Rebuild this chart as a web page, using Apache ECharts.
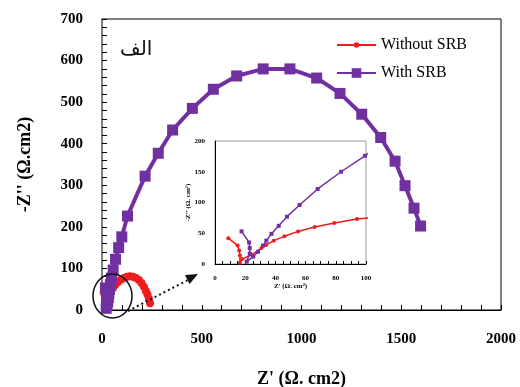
<!DOCTYPE html>
<html><head><meta charset="utf-8">
<script src="https://cdn.jsdelivr.net/npm/echarts@6/dist/echarts.min.js"></script>
<style>html,body{margin:0;padding:0;background:#fff}#c{width:520px;height:387px}</style>
</head><body><div id="c"></div>
<script>
// Data (Z' , -Z'')
const withoutX = [8.8, 15, 16, 16.5, 16.5, 18, 24.2, 30.8, 34, 38.9, 46, 55, 66, 79, 94, 110, 125, 140, 155, 170, 185, 198, 210, 220, 228, 235, 241];
const withoutY = [42, 30, 22, 14, 2, 8, 15, 26, 31, 38, 45, 53, 60, 66.5, 73, 77, 80, 81, 80, 77, 72, 65, 56, 46, 37, 27, 16];
const withX = [17.6, 22.6, 23, 23, 21, 25.3, 28.5, 31.8, 34, 37.4, 42.2, 47.7, 56, 68, 83.5, 99.3, 128, 216, 282, 354, 453, 558, 675, 808, 942, 1076, 1193, 1302, 1397, 1469, 1519, 1564, 1597];
const withY = [53, 35, 26, 17, 4, 12, 20, 30, 38, 49, 62, 77, 96, 122, 150, 176, 226, 322, 377, 433, 485, 531, 563, 580, 580, 558, 521, 471, 415, 358, 299, 245, 202];
const seriesNames = ['Without SRB', 'With SRB'];
const mainXTicks = [0, 500, 1000, 1500, 2000];
const mainYTicks = [0, 100, 200, 300, 400, 500, 600, 700];
const insetXTicks = [0, 20, 40, 60, 80, 100];
const insetYTicks = [0, 50, 100, 150, 200];

const pair = (xs, ys) => xs.map((x, i) => [x, ys[i]]);
const RED = '#EE1C1C', PURPLE = '#7030A0';
const SERIF = '"Liberation Serif", "Times New Roman", serif';
const plain = v => String(v);

const chart = echarts.init(document.getElementById('c'));
chart.setOption({
  animation: false,
  backgroundColor: '#fff',
  grid: [
    {left: 102, top: 19, right: 19, bottom: 77, show: true, borderColor: '#000', borderWidth: 1, outerBoundsMode: 'none', containLabel: false},
    {left: 215, top: 141, width: 151, height: 123, show: true, borderColor: '#999', borderWidth: 1, backgroundColor: '#fff', z: 10, outerBoundsMode: 'none', containLabel: false}
  ],
  xAxis: [
    {gridIndex: 0, type: 'value', min: mainXTicks[0], max: mainXTicks[mainXTicks.length-1], interval: 500,
     name: "Z' (Ω. cm2)", nameLocation: 'middle', nameGap: 60, nameMoveOverlap: false,
     nameTextStyle: {fontFamily: SERIF, fontWeight: 'bold', fontSize: 18, color: '#000'},
     axisLine: {lineStyle: {color: '#000', width: 1}},
     axisTick: {show: true, inside: true, length: 5, lineStyle: {color: '#000'}},
     minorTick: {show: true, splitNumber: 5, length: 5, lineStyle: {color: '#000'}},
     splitLine: {show: false},
     axisLabel: {margin: 22, formatter: plain, fontFamily: SERIF, fontWeight: 'bold', fontSize: 15, color: '#000'}},
    {gridIndex: 1, type: 'value', min: insetXTicks[0], max: insetXTicks[insetXTicks.length-1], interval: 20,
     name: "Z' (Ω. cm²)", nameLocation: 'middle', nameGap: 19, nameMoveOverlap: false,
     nameTextStyle: {fontFamily: SERIF, fontWeight: 'bold', fontSize: 7, color: '#000'},
     axisLine: {lineStyle: {color: '#000', width: 1}},
     axisTick: {show: true, inside: true, length: 3, lineStyle: {color: '#000'}},
     minorTick: {show: true, splitNumber: 4, length: 3, lineStyle: {color: '#000'}},
     splitLine: {show: false},
     axisLabel: {margin: 11, formatter: plain, fontFamily: SERIF, fontWeight: 'bold', fontSize: 7, color: '#000'}, z: 10}
  ],
  yAxis: [
    {gridIndex: 0, type: 'value', min: mainYTicks[0], max: mainYTicks[mainYTicks.length-1], interval: 100,
     name: "-Z'' (Ω.cm2)", nameLocation: 'middle', nameGap: 68, nameMoveOverlap: false,
     nameTextStyle: {fontFamily: SERIF, fontWeight: 'bold', fontSize: 18, color: '#000'},
     axisLine: {lineStyle: {color: '#808080', width: 2}},
     axisTick: {show: true, inside: true, length: 5, lineStyle: {color: '#000'}},
     minorTick: {show: true, splitNumber: 5, length: 5, lineStyle: {color: '#000'}},
     splitLine: {show: false},
     axisLabel: {margin: 19, formatter: plain, fontFamily: SERIF, fontWeight: 'bold', fontSize: 15, color: '#000'}},
    {gridIndex: 1, type: 'value', min: insetYTicks[0], max: insetYTicks[insetYTicks.length-1], interval: 50,
     name: "-Z'' (Ω. cm²)", nameLocation: 'middle', nameGap: 23, nameMoveOverlap: false,
     nameTextStyle: {fontFamily: SERIF, fontWeight: 'bold', fontSize: 7, color: '#000'},
     axisLine: {lineStyle: {color: '#000', width: 1}},
     axisTick: {show: false},
     splitLine: {show: false},
     axisLabel: {margin: 10, formatter: plain, fontFamily: SERIF, fontWeight: 'bold', fontSize: 7, color: '#000'}, z: 10}
  ],
  legend: [
    {data: [seriesNames[0]], left: 336, top: 37, padding: 0, itemWidth: 39, itemHeight: 7, selectedMode: false,
     textStyle: {fontFamily: SERIF, fontSize: 16, lineHeight: 16, color: '#000'}},
    {data: [seriesNames[1]], left: 336, top: 65, padding: 0, itemWidth: 39, itemHeight: 12, selectedMode: false,
     textStyle: {fontFamily: SERIF, fontSize: 16, lineHeight: 16, color: '#000'}}
  ],
  series: [
    {name: seriesNames[0], type: 'line', xAxisIndex: 0, yAxisIndex: 0, data: pair(withoutX, withoutY),
     symbol: 'circle', symbolSize: 8, lineStyle: {color: RED, width: 3}, itemStyle: {color: RED}, z: 3},
    {name: seriesNames[1], type: 'line', xAxisIndex: 0, yAxisIndex: 0, data: pair(withX, withY),
     symbol: 'rect', symbolSize: 11, lineStyle: {color: PURPLE, width: 4}, itemStyle: {color: PURPLE}, z: 4},
    {name: 'inset-without', type: 'line', xAxisIndex: 1, yAxisIndex: 1, data: pair(withoutX, withoutY),
     symbol: 'circle', symbolSize: 4, lineStyle: {color: RED, width: 1.5}, itemStyle: {color: RED}, z: 12, clip: true},
    {name: 'inset-with', type: 'line', xAxisIndex: 1, yAxisIndex: 1, data: pair(withX, withY),
     symbol: 'rect', symbolSize: 4, lineStyle: {color: PURPLE, width: 1.5}, itemStyle: {color: PURPLE}, z: 12, clip: true}
  ],
  graphic: [
    {type: 'text', left: 120, top: 40, style: {text: 'الف', font: '20px "DejaVu Sans", sans-serif', fill: '#111'}},
    {type: 'ellipse', shape: {cx: 112.5, cy: 296, rx: 19.5, ry: 22}, style: {fill: 'none', stroke: '#111', lineWidth: 1.5}, z: 20},
    {type: 'line', shape: {x1: 128, y1: 311, x2: 188, y2: 280}, style: {stroke: '#111', lineWidth: 2, lineDash: [2, 3]}, z: 20},
    {type: 'polygon', shape: {points: [[198, 274], [189.6, 284], [185, 275]]}, style: {fill: '#111'}, z: 20}
  ]
});
</script></body></html>
